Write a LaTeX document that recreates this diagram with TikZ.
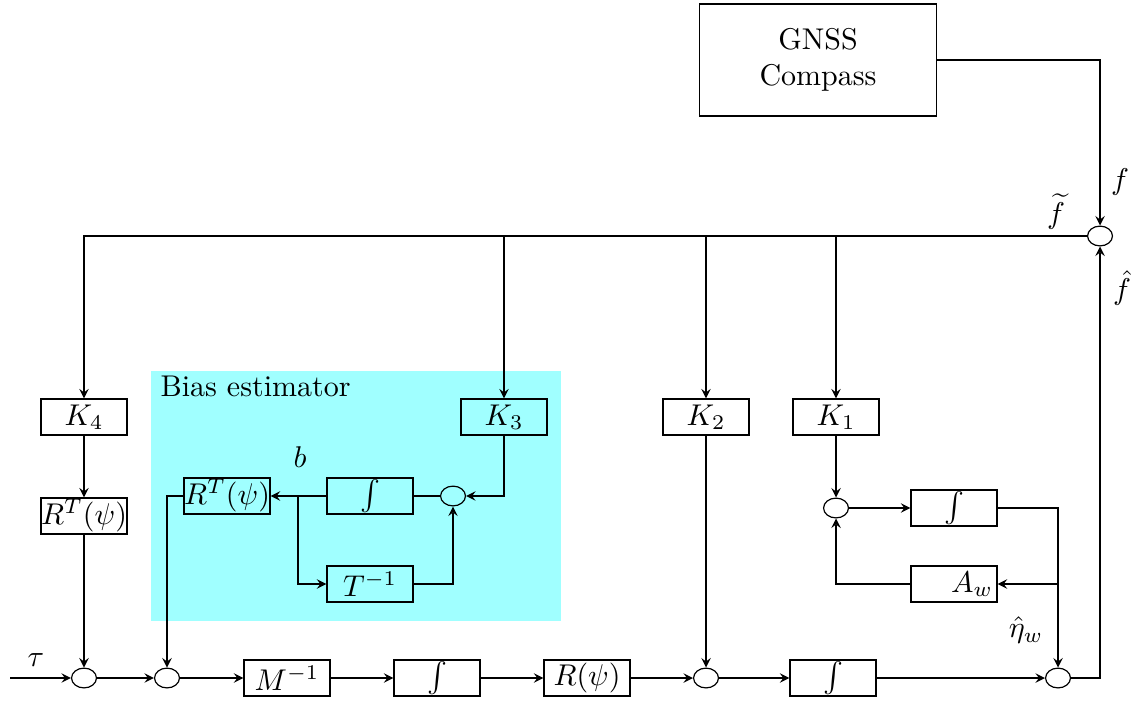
\documentclass[tikz,border=0pt]{standalone}
\usetikzlibrary{arrows,shapes.geometric}
\definecolor{biascyan}{RGB}{160,255,255}
\begin{document}
\begin{tikzpicture}[x=0.3333pt,y=-0.3333pt,>=stealth,
    blk/.style={draw,inner sep=0pt,minimum width=28.7pt,minimum height=12pt},
    sum/.style={ellipse,draw,inner sep=0pt,minimum width=8.3pt,minimum height=6.6pt},
    lbl/.style={inner sep=0pt}]
\useasboundingbox (0,0) rectangle (1136,700);
% bias estimator area
\fill[biascyan] (151,371) rectangle (561,621);
\node[anchor=north west,inner sep=1pt] (bias) at (157,372) {Bias estimator};
% blocks
\node(gnss)[draw,minimum width=79pt,minimum height=37.3pt,align=center] at (818,60){GNSS\\Compass};
\node(ftop)[sum] at (1100,236){};
\node(k4)[blk] at (84,417){$K_4$};
\node(rt1)[blk] at (84,516){$R^T(\psi)$};
\node(k3)[blk] at (504,417){$K_3$};
\node(k2)[blk] at (706,417){$K_2$};
\node(k1)[blk] at (836,417){$K_1$};
\node(rt2)[blk] at (227,496){$R^T(\psi)$};
\node(int1)[blk] at (370,496){$\int$};
\node(sb)[sum] at (453,496){};
\node(tinv)[blk] at (370,584){$T^{-1}$};
\node(sw)[sum] at (836,508){};
\node(int4)[blk] at (954,508){$\int$};
\node(aw)[blk] at (954,584){\hspace*{1.2em}$A_w$};
\node(s1)[sum] at (84,678){};
\node(s2)[sum] at (167,678){};
\node(minv)[blk] at (287,678){$M^{-1}$};
\node(int2)[blk] at (437,678){$\int$};
\node(rpsi)[blk] at (587,678){$R(\psi)$};
\node(s3)[sum] at (706,678){};
\node(int3)[blk] at (833,678){$\int$};
\node(s4)[sum] at (1058,678){};
\coordinate(in) at (10,678);
\coordinate(br) at (298,496);
\coordinate(jn) at (1058,584);
% labels
\node(lf)[lbl] at (1120,182){$f$};
\node(lft)[lbl] at (1056,212){$\widetilde{f}$};
\node(lfh)[lbl] at (1122,288){$\hat{f}$};
\node(lb)[lbl] at (300,457){$b$};
\node(ltau)[lbl] at (36,660){$\tau$};
\node(leta)[lbl] at (1026,630){$\hat{\eta}_w$};
% connections
\draw[->] (gnss) -| (ftop);
\draw[->] (ftop) -| (k4);
\draw[->] (k3 |- ftop) -- (k3);
\draw[->] (k2 |- ftop) -- (k2);
\draw[->] (k1 |- ftop) -- (k1);
\draw[->] (k4) -- (rt1);
\draw[->] (rt1) -- (s1);
\draw[->] (k3) |- (sb);
\draw (sb) -- (int1);
\draw[->] (int1) -- (rt2);
\draw[->] (br) |- (tinv);
\draw[->] (tinv) -| (sb);
\draw[->] (rt2) -| (s2);
\draw[->] (in) -- (s1);
\draw[->] (s1) -- (s2);
\draw[->] (s2) -- (minv);
\draw[->] (minv) -- (int2);
\draw[->] (int2) -- (rpsi);
\draw[->] (rpsi) -- (s3);
\draw[->] (s3) -- (int3);
\draw[->] (int3) -- (s4);
\draw[->] (s4) -| (ftop);
\draw[->] (k2) -- (s3);
\draw[->] (k1) -- (sw);
\draw[->] (sw) -- (int4);
\draw[->] (int4) -| (s4);
\draw[->] (jn) -- (aw);
\draw[->] (aw) -| (sw);
\end{tikzpicture}
\end{document}
